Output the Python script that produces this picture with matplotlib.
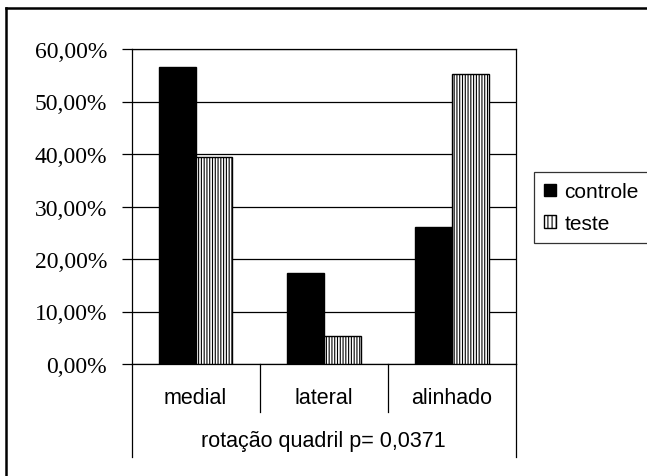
import numpy as np
import matplotlib
matplotlib.use('Agg')
import matplotlib.pyplot as plt
from matplotlib.patches import Patch
from matplotlib.lines import Line2D

# data
categories = ['medial', 'lateral', 'alinhado']
controle = [56.52, 17.39, 26.09]
teste = [39.47, 5.26, 55.26]
series_names = ['controle', 'teste']
axis_title = 'rotação quadril p= 0,0371'
yticks = [0, 10, 20, 30, 40, 50, 60]

W, H = 647, 477
fig = plt.figure(figsize=(W / 100, H / 100), dpi=100)
plt.rcParams['hatch.linewidth'] = 0.8

# plot area in pixels: x 131.5..516, y 50..365
ax = fig.add_axes([131.5 / W, (H - 365) / H, (516 - 131.5) / W, 315 / H])

x = np.arange(len(categories))
w = 0.287
ax.bar(x - w / 2, controle, w, color='black', edgecolor='black', lw=1, zorder=3)
ax.bar(x + w / 2, teste, w, color='white', edgecolor='black', hatch='||||||', lw=1, zorder=3)

ax.set_xlim(-0.5, len(categories) - 0.5)
ax.set_ylim(0, 60)
ax.set_yticks(yticks)
ax.set_yticklabels(['%d,00%%' % v for v in yticks], family='Liberation Serif', fontsize=17)
ax.yaxis.grid(True, color='black', lw=0.9, zorder=0)
ax.set_axisbelow(True)
ax.tick_params(axis='y', direction='out', length=7, width=0.9, pad=10.5, color='black')
ax.set_xticks([])
for s in ax.spines.values():
    s.set_color('black')
    s.set_linewidth(0.9)

# category axis below plot
tr = ax.get_xaxis_transform()
for b in np.arange(0.5, len(categories) - 0.5):
    ax.add_line(Line2D([b, b], [0, -0.152], transform=tr, color='black', lw=0.9, clip_on=False))
for b in [-0.5, len(categories) - 0.5]:
    ax.add_line(Line2D([b, b], [0, -0.295], transform=tr, color='black', lw=0.9, clip_on=False))
for i, c in enumerate(categories):
    ax.text(i, -0.105, c, transform=tr, ha='center', va='center',
            family='Liberation Sans', fontsize=15.5)
ax.text((len(categories) - 1) / 2, -0.244, axis_title, transform=tr, ha='center', va='center',
        family='Liberation Sans', fontsize=15.5)

# legend
handles = [Patch(facecolor='black', edgecolor='black'),
           Patch(facecolor='white', edgecolor='black', hatch='||||')]
leg = fig.legend(handles, series_names, loc='upper left',
                 bbox_to_anchor=(534 / W, 1 - 173 / H),
                 prop={'family': 'Liberation Sans', 'size': 15},
                 handlelength=0.55, handleheight=0.55, handletextpad=0.4,
                 borderpad=0.5, labelspacing=0.6, borderaxespad=0,
                 fancybox=False, frameon=True)
leg.get_frame().set_edgecolor('black')
leg.get_frame().set_linewidth(0.9)

# outer chart frame (only top and left visible)
fig.add_artist(Line2D([6 / W, 1], [1 - 9 / H, 1 - 9 / H], transform=fig.transFigure, color='black', lw=1.8))
fig.add_artist(Line2D([6 / W, 6 / W], [0, 1 - 9 / H], transform=fig.transFigure, color='black', lw=1.8))

fig.savefig('out.png', dpi=100)
